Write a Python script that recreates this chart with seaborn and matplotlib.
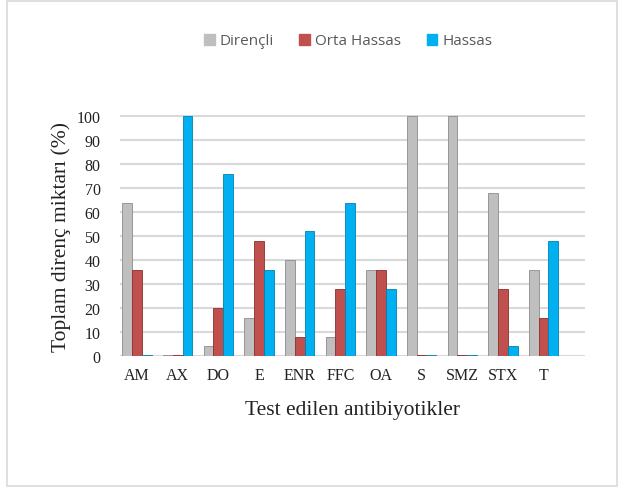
import numpy as np
import pandas as pd
import matplotlib
matplotlib.use("Agg")
import matplotlib.pyplot as plt
import seaborn as sns
from matplotlib.patches import Rectangle

# data
antibiotics = ["AM", "AX", "DO", "E", "ENR", "FFC", "OA", "S", "SMZ", "STX", "T"]
direncli = [64, 0, 4, 16, 40, 8, 36, 100, 100, 68, 36]
orta_hassas = [36, 0, 20, 48, 8, 28, 36, 0, 0, 28, 16]
hassas = [0, 100, 76, 36, 52, 64, 28, 0, 0, 4, 48]
series_names = ["Dirençli", "Orta Hassas", "Hassas"]
colors = ["#BFBFBF", "#C0504D", "#00B0F0"]
edge_colors = ["#8C8C8C", "#8B2E2B", "#0080B0"]

df = pd.DataFrame({
    "antibiotic": antibiotics * 3,
    "value": direncli + orta_hassas + hassas,
    "group": [series_names[0]] * 11 + [series_names[1]] * 11 + [series_names[2]] * 11,
})

sns.set_style("white")

fig = plt.figure(figsize=(6.19, 4.89), dpi=100)
ax = fig.add_axes([120 / 619, 1 - 357 / 489, (585 - 120) / 619, (357 - 116) / 489])

sns.barplot(data=df, x="antibiotic", y="value", hue="group",
            palette=colors, width=0.72, ax=ax, legend=False,
            saturation=1, zorder=3)

# darker edge for a bit of the 3D look
for container, ec in zip(ax.containers, edge_colors):
    for bar in container:
        bar.set_edgecolor(ec)
        bar.set_linewidth(0.6)
        if bar.get_height() == 0:
            bar.set_height(0.6)

ax.set_ylim(0, 100.5)
ax.set_xlim(-0.42, 11.02)
ax.set_yticks(np.arange(0, 101, 10))
ax.yaxis.grid(True, color="#D9D9D9", linewidth=1.5, zorder=0)
ax.set_axisbelow(True)
for s in ax.spines.values():
    s.set_visible(False)
ax.tick_params(axis="both", length=0, labelsize=11.5, labelcolor="#222222")
for lab in ax.get_xticklabels() + ax.get_yticklabels():
    lab.set_family("Liberation Serif")
ax.tick_params(axis="y", pad=14)
ax.tick_params(axis="x", pad=8)

ax.set_xlabel("Test edilen antibiyotikler", family="Liberation Serif",
              fontsize=15.5, color="#222222", labelpad=12)
ax.set_ylabel("Toplam direnç miktarı (%)", family="Liberation Serif",
              fontsize=15.5, color="#222222", labelpad=4)

# legend
handles = [Rectangle((0, 0), 1, 1, color=c) for c in colors]
fig.legend(handles, series_names, loc="center", bbox_to_anchor=(348 / 619, 1 - 42 / 489),
           ncol=3, frameon=False, handlelength=0.7, handleheight=0.7,
           handletextpad=0.3, columnspacing=1.7,
           prop={"family": "Open Sans", "size": 11}, labelcolor="#595959")

# outer border
fig.patches.append(Rectangle((7 / 619, 2 / 489), 610 / 619, 485 / 489,
                             transform=fig.transFigure, fill=False,
                             edgecolor="#D9D9D9", linewidth=1.2))

fig.savefig("out.png", dpi=100)
